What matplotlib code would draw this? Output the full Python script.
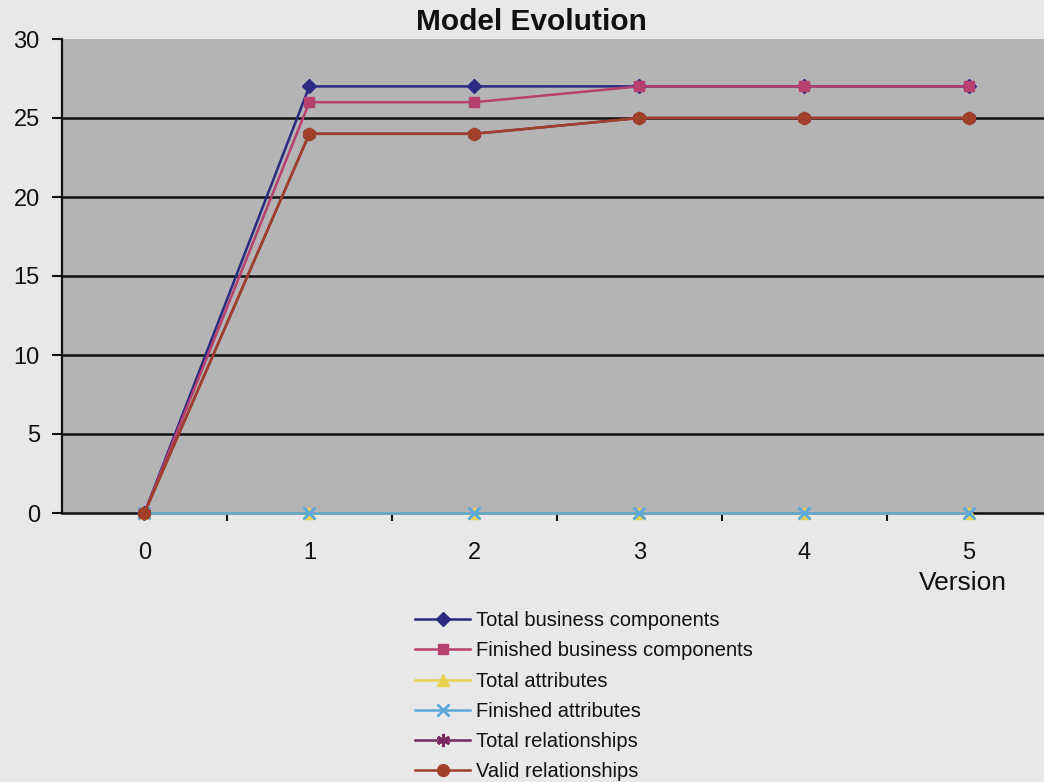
import matplotlib
matplotlib.use("Agg")
import matplotlib.pyplot as plt
from matplotlib.ticker import FixedLocator

plt.rcParams['font.family'] = ['Liberation Sans', 'DejaVu Sans']

versions = [0, 1, 2, 3, 4, 5]
total_business = [0, 27, 27, 27, 27, 27]
finished_business = [0, 26, 26, 27, 27, 27]
total_attributes = [0, 0, 0, 0, 0, 0]
finished_attributes = [0, 0, 0, 0, 0, 0]
total_relationships = [0, 24, 24, 25, 25, 25]
valid_relationships = [0, 24, 24, 25, 25, 25]

series = [
    ("Total business components", total_business, "#2a2a80", "D", 7.5),
    ("Finished business components", finished_business, "#b8406e", "s", 7.5),
    ("Total attributes", total_attributes, "#e8d050", "^", 8.5),
    ("Finished attributes", finished_attributes, "#5aa8dc", "x", 8.5),
    ("Total relationships", total_relationships, "#7a2860", (6, 2, 0), 9.5),
    ("Valid relationships", valid_relationships, "#a0402a", "o", 8.5),
]

fig = plt.figure(figsize=(10.44, 7.82), dpi=100)
fig.patch.set_facecolor("#e8e8e8")
ax = fig.add_axes([62/1044, 1-513/782, (1051.5-62)/1044, (513-39)/782])
ax.set_facecolor("#b4b4b4")

for label, vals, color, marker, ms in series:
    kw = dict(markerfacecolor=color, markeredgecolor=color)
    if marker in ("x", (6, 2, 0)):
        kw["markeredgewidth"] = 2
    ax.plot(versions, vals, color=color, lw=1.8, marker=marker, ms=ms,
            label=label, clip_on=False, zorder=3, **kw)

ax.set_xlim(-0.5, 5.5)
ax.set_ylim(0, 30)
ax.set_yticks([0, 5, 10, 15, 20, 25, 30])
ax.tick_params(axis='y', labelsize=17, length=7, width=1.5, direction='out', pad=9, colors="#111111")
ax.set_xticks(versions)
ax.set_xticklabels([str(v) for v in versions], fontsize=17)
ax.tick_params(axis='x', which='major', length=0, pad=21, colors="#111111")
ax.xaxis.set_minor_locator(FixedLocator([0.5, 1.5, 2.5, 3.5, 4.5]))
ax.tick_params(axis='x', which='minor', length=6, width=1.5, direction='out', colors="#111111")

for y in [5, 10, 15, 20, 25]:
    ax.axhline(y, color="#111111", lw=1.8, zorder=1)

for s in ['top', 'right']:
    ax.spines[s].set_visible(False)
ax.spines['left'].set_linewidth(1.6)
ax.spines['left'].set_color("#111111")
ax.spines['bottom'].set_linewidth(1.8)
ax.spines['bottom'].set_color("#111111")

ax.text(4.96, -(571-513)/474, "Version", transform=ax.get_xaxis_transform(),
        ha='center', va='top', fontsize=19, color="#111111")

fig.text(531/1044, 1-22/782, "Model Evolution", ha='center', va='center',
         fontsize=21.5, fontweight='bold', color="#111111")

leg = fig.legend(loc='upper left', bbox_to_anchor=(415/1044, 1-611/782), frameon=False,
                 fontsize=14.5, labelspacing=0.56, handlelength=2.75, handletextpad=0.3,
                 borderaxespad=0, borderpad=0)
for t in leg.get_texts():
    t.set_color("#111111")

fig.savefig("out.png", dpi=100, facecolor=fig.get_facecolor())
